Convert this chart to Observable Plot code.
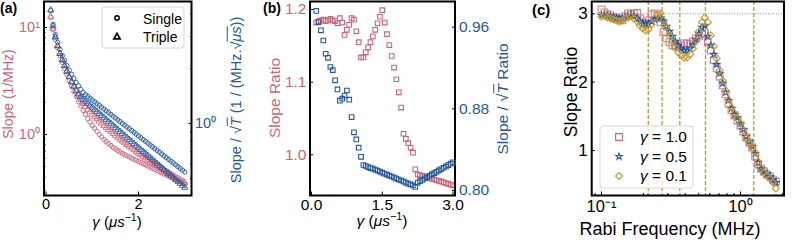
<!DOCTYPE html>
<html><head><meta charset="utf-8">
<script src="https://cdn.jsdelivr.net/npm/d3@7"></script>
<script src="https://cdn.jsdelivr.net/npm/@observablehq/plot@0.6"></script>
<style>
html,body{margin:0;padding:0;background:#fff;}
#wrap{position:relative;width:793px;height:241px;overflow:hidden;font-family:"Liberation Sans",Arial,sans-serif;}
#wrap svg{position:absolute;left:0;top:0;}
.t{position:absolute;white-space:nowrap;line-height:1;}
.ov{text-decoration:overline;}
</style></head><body><div id="wrap"></div>
<script>
// ---------- data ----------
const gamma = [0.1,0.15,0.2,0.25,0.3,0.35,0.4,0.45,0.5,0.55,0.6,0.65,0.7,0.75,0.8,0.85,0.9,0.95,1.0,1.05,1.1,1.15,1.2,1.25,1.3,1.35,1.4,1.45,1.5,1.55,1.6,1.65,1.7,1.75,1.8,1.85,1.9,1.95,2.0,2.05,2.1,2.15,2.2,2.25,2.3,2.35,2.4,2.45,2.5,2.55,2.6,2.65,2.7,2.75,2.8,2.85,2.9,2.95,3.0];
// panel (a): slope (left axis, 1/MHz)
const slopeSingle = [12.41,9.58,7.72,6.43,5.47,4.71,4.14,3.64,3.20,2.84,2.52,2.27,2.03,1.85,1.68,1.54,1.41,1.31,1.21,1.14,1.07,1.00,0.948,0.898,0.860,0.824,0.789,0.756,0.732,0.709,0.686,0.667,0.650,0.632,0.616,0.602,0.586,0.573,0.559,0.546,0.532,0.520,0.508,0.496,0.483,0.472,0.461,0.450,0.439,0.428,0.418,0.409,0.398,0.389,0.380,0.369,0.360,0.350,0.341];
const slopeTriple = [12.67,9.79,8.06,6.72,5.71,4.97,4.41,3.92,3.48,3.13,2.81,2.55,2.31,2.12,1.95,1.83,1.71,1.62,1.54,1.46,1.40,1.33,1.27,1.21,1.16,1.11,1.07,1.02,0.979,0.937,0.898,0.864,0.833,0.801,0.772,0.743,0.716,0.689,0.664,0.643,0.623,0.603,0.584,0.565,0.547,0.530,0.513,0.497,0.481,0.466,0.451,0.438,0.425,0.413,0.401,0.389,0.377,0.367,0.356];
// panel (a): slope / sqrt(T) (right axis)
const normSingle = [4.18,3.50,3.08,2.79,2.55,2.36,2.22,2.08,1.96,1.86,1.77,1.68,1.61,1.54,1.48,1.44,1.41,1.375,1.346,1.316,1.286,1.257,1.229,1.201,1.174,1.148,1.122,1.097,1.072,1.048,1.024,1.001,0.979,0.957,0.935,0.914,0.894,0.874,0.854,0.835,0.816,0.798,0.780,0.762,0.745,0.728,0.712,0.696,0.680,0.665,0.650,0.635,0.621,0.607,0.593,0.580,0.567,0.554,0.541];
const normTriple = [4.20,3.43,2.99,2.67,2.42,2.23,2.07,1.93,1.80,1.69,1.60,1.52,1.45,1.40,1.355,1.321,1.288,1.256,1.224,1.193,1.164,1.135,1.106,1.079,1.052,1.025,1.000,0.975,0.950,0.927,0.903,0.881,0.859,0.837,0.816,0.796,0.776,0.757,0.738,0.719,0.701,0.684,0.667,0.650,0.634,0.618,0.602,0.587,0.573,0.558,0.544,0.531,0.518,0.505,0.492,0.480,0.468,0.456,0.445];
// panel (b): ratios
const ratioSlope = [1.182,1.184,1.185,1.186,1.184,1.185,1.187,1.185,1.184,1.181,1.188,1.182,1.165,1.172,1.179,1.188,1.186,1.170,1.155,1.134,1.134,1.141,1.148,1.155,1.163,1.172,1.181,1.190,1.199,1.182,1.166,1.151,1.136,1.120,1.104,1.086,1.065,1.029,1.022,1.016,1.010,1.003,0.980,0.973,0.972,0.971,0.970,0.969,0.968,0.967,0.966,0.965,0.964,0.963,0.962,0.961,0.960,0.959,0.958];
const ratioNorm = [0.976,0.965,0.957,0.947,0.934,0.930,0.921,0.918,0.908,0.899,0.888,0.890,0.893,0.898,0.889,0.872,0.857,0.850,0.842,0.833,0.825,0.824,0.823,0.822,0.8215,0.8205,0.8195,0.8185,0.8176,0.8166,0.8156,0.8146,0.8137,0.8127,0.8117,0.8107,0.8098,0.8088,0.8078,0.8068,0.8059,0.8050,0.8035,0.8078,0.8091,0.8104,0.8118,0.8131,0.8144,0.8157,0.8170,0.8183,0.8197,0.8210,0.8223,0.8236,0.8249,0.8263,0.8276];
// panel (c): slope ratio vs Rabi frequency
const rabi = [0.100,0.105,0.110,0.116,0.122,0.128,0.134,0.141,0.148,0.155,0.163,0.171,0.180,0.189,0.198,0.208,0.218,0.229,0.241,0.253,0.266,0.279,0.293,0.308,0.323,0.340,0.357,0.374,0.393,0.413,0.434,0.455,0.478,0.502,0.528,0.554,0.582,0.611,0.642,0.674,0.708,0.744,0.781,0.820,0.861,0.905,0.950,0.998,1.048,1.100,1.156,1.214,1.275,1.339,1.406,1.476,1.550,1.628,1.710,1.796];
const ratioG10 = [3.064,3.020,2.991,2.977,2.947,2.933,2.918,2.903,2.962,3.006,2.991,3.006,3.013,2.933,2.874,2.845,2.903,2.991,3.006,2.977,2.874,2.728,2.640,2.581,2.537,2.523,2.508,2.537,2.567,2.567,2.552,2.596,2.640,2.669,2.698,2.713,2.581,2.464,2.318,2.201,2.083,1.952,1.820,1.688,1.586,1.512,1.439,1.366,1.278,1.190,1.117,1.044,0.912,0.795,0.736,0.693,0.649,0.619,0.575,0.546];
const ratioG05 = [2.977,2.984,2.969,2.962,2.947,2.940,2.933,2.933,2.947,2.962,2.977,2.962,2.933,2.889,2.859,2.852,2.859,2.889,2.918,2.933,2.940,2.889,2.816,2.742,2.669,2.596,2.537,2.493,2.464,2.464,2.493,2.552,2.625,2.713,2.801,2.830,2.669,2.537,2.406,2.259,2.127,1.981,1.849,1.732,1.615,1.527,1.483,1.395,1.307,1.205,1.132,1.059,0.956,0.824,0.736,0.693,0.656,0.619,0.575,0.531];
const ratioG01 = [2.962,2.977,2.947,2.933,2.918,2.903,2.889,2.903,2.933,2.947,2.962,2.933,2.889,2.830,2.786,2.757,2.772,2.845,2.933,2.991,3.006,2.903,2.801,2.684,2.596,2.508,2.435,2.391,2.362,2.362,2.406,2.493,2.611,2.742,2.874,2.947,2.874,2.684,2.523,2.347,2.171,2.025,1.878,1.747,1.630,1.542,1.469,1.395,1.293,1.190,1.117,1.044,0.971,0.839,0.736,0.678,0.634,0.590,0.531,0.444];
const resonances = [0.217,0.273,0.366,0.56,1.247];
const limitRatio = [3];
// ticks
const aXTicks = [0, 2];
const aLeftTicks = [1, 10], aLeftLabels = ["10\u2070", "10\u00B9"];
const aLeftMinor = [0.3,0.4,0.5,0.6,0.7,0.8,0.9,2,3,4,5,6,7,8,9];
const aRightTicks = [1], aRightLabels = ["10\u2070"];
const aRightMinor = [0.5,0.6,0.7,0.8,0.9,2,3,4];
const bXTicks = [0, 1.5, 3.0];
const bLeftTicks = [1.0, 1.1, 1.2];
const bRightTicks = [0.80, 0.88, 0.96];
const cXTicks = [0.1, 1], cXLabels = ["10\u207B\u00B9", "10\u2070"];
const cXMinor = [0.09,0.2,0.3,0.4,0.5,0.6,0.7,0.8,0.9,2];
const cYTicks = [1, 2, 3];

// ---------- helpers ----------
const FONT = "'Liberation Sans', Arial, Helvetica, sans-serif";
const RED = "#CC6677", BLUE = "#2459A2", GOLD = "#C09A30";
const W = 793, H = 241;
const wrap = document.getElementById("wrap");
const rows = (xs, ys) => xs.map((x, i) => ({x, y: ys[i]}));
const frameOf = (f) => ({width: W, height: H, marginLeft: f.l, marginRight: W - f.r, marginTop: f.t, marginBottom: H - f.b,
  style: {background: "transparent", overflow: "visible", fontFamily: FONT, fontSize: "14px", color: "black"}});
const add = (svg) => wrap.appendChild(svg);
const diamond = {draw(ctx, size) { const r = Math.sqrt(size / 2); ctx.moveTo(0, -r); ctx.lineTo(r, 0); ctx.lineTo(0, r); ctx.lineTo(-r, 0); ctx.closePath(); }};

// ---------- panel (a) ----------
const FA = {l: 43.5, r: 191, t: 1, b: 195};
const xA = {domain: [-0.045, 3.145]};
add(Plot.plot({
  ...frameOf(FA),
  x: xA,
  y: {type: "log", domain: [0.269, 17.5]},
  marks: [
    Plot.dot(rows(gamma, slopeSingle), {x: "x", y: "y", symbol: "circle", r: 2.2, stroke: RED, strokeWidth: 0.9, fill: "none"}),
    Plot.dot(rows(gamma, slopeTriple), {x: "x", y: "y", symbol: "triangle", r: 2.3, stroke: RED, strokeWidth: 0.9, fill: "none"}),
    Plot.axisX(aXTicks, {tickSize: -3.5, tickPadding: 7, tickFormat: d => String(d), fontSize: 14.5, label: null}),
    Plot.axisY(aLeftTicks, {anchor: "left", tickSize: -3.5, tickPadding: 7.5, tickFormat: d => aLeftLabels[aLeftTicks.indexOf(d)], fill: RED, stroke: "black", fontSize: 14.5, label: null}),
    Plot.axisY(aLeftMinor, {anchor: "left", tickSize: -2, tickFormat: () => "", label: null}),
    Plot.frame({stroke: "black", strokeWidth: 2})
  ]
}));
add(Plot.plot({
  ...frameOf(FA),
  x: {...xA, axis: null},
  y: {type: "log", domain: [0.402, 4.68]},
  marks: [
    Plot.dot(rows(gamma, normSingle), {x: "x", y: "y", symbol: "circle", r: 2.2, stroke: BLUE, strokeWidth: 0.9, fill: "none"}),
    Plot.dot(rows(gamma, normTriple), {x: "x", y: "y", symbol: "triangle", r: 2.3, stroke: BLUE, strokeWidth: 0.9, fill: "none"}),
    Plot.axisY(aRightTicks, {anchor: "right", tickSize: -3.5, tickPadding: 7, tickFormat: d => aRightLabels[aRightTicks.indexOf(d)], fill: BLUE, stroke: "black", fontSize: 14.5, label: null}),
    Plot.axisY(aRightMinor, {anchor: "right", tickSize: -2, tickFormat: () => "", label: null})
  ]
}));

// ---------- panel (b) ----------
const FB = {l: 309.5, r: 454.5, t: 1, b: 195};
const xB = {domain: [-0.032, 3.042]};
add(Plot.plot({
  ...frameOf(FB),
  x: xB,
  y: {domain: [0.944, 1.211]},
  marks: [
    Plot.dot(rows(gamma, ratioSlope), {x: "x", y: "y", symbol: "square", r: 2.6, stroke: RED, strokeWidth: 1.1, fill: "none"}),
    Plot.axisX(bXTicks, {tickSize: -3.5, tickPadding: 7, tickFormat: d3.format(".1f"), fontSize: 15.5, label: null}),
    Plot.axisY(bLeftTicks, {anchor: "left", tickSize: -3.5, tickPadding: 7, tickFormat: d3.format(".1f"), fill: RED, stroke: "black", fontSize: 15.5, label: null}),
    Plot.frame({stroke: "black", strokeWidth: 2})
  ]
}));
add(Plot.plot({
  ...frameOf(FB),
  x: {...xB, axis: null},
  y: {domain: [0.7951, 0.9852]},
  marks: [
    Plot.dot(rows(gamma, ratioNorm), {x: "x", y: "y", symbol: "square", r: 2.6, stroke: BLUE, strokeWidth: 1.1, fill: "none"}),
    Plot.axisY(bRightTicks, {anchor: "right", tickSize: -3.5, tickPadding: 7.5, tickFormat: d3.format(".2f"), fill: BLUE, stroke: "black", fontSize: 15.5, label: null})
  ]
}));

// ---------- panel (c) ----------
const FC = {l: 591.2, r: 783.5, t: 1, b: 195};
add(Plot.plot({
  ...frameOf(FC),
  x: {type: "log", domain: [0.085, 2.056]},
  y: {domain: [0.3416, 3.18]},
  marks: [
    Plot.ruleY(limitRatio, {stroke: "#888", strokeWidth: 1, strokeDasharray: "1,1.6"}),
    Plot.ruleX(resonances, {stroke: GOLD, strokeWidth: 1.3, strokeDasharray: "4,2"}),
    Plot.dot(rows(rabi, ratioG10), {x: "x", y: "y", symbol: "square", r: 3.8, stroke: RED, strokeOpacity: 0.85, strokeWidth: 1.1, fill: "none"}),
    Plot.dot(rows(rabi, ratioG05), {x: "x", y: "y", symbol: "star", r: 2.0, stroke: BLUE, strokeWidth: 1.1, fill: "none"}),
    Plot.dot(rows(rabi, ratioG01), {x: "x", y: "y", symbol: diamond, r: 2.8, stroke: GOLD, strokeWidth: 1.1, fill: "none"}),
    Plot.axisX(cXTicks, {tickSize: -3.5, tickPadding: 8, tickFormat: d => cXLabels[cXTicks.indexOf(d)], fontSize: 16.5, label: null}),
    Plot.axisX(cXMinor, {tickSize: -2, tickFormat: () => "", label: null}),
    Plot.axisY(cYTicks, {anchor: "left", tickSize: -3.5, tickPadding: 7.5, tickFormat: d => String(d), fontSize: 17, label: null}),
    Plot.frame({stroke: "black", strokeWidth: 2})
  ]
}));

// ---------- legends (symbols) ----------
const ns = "http://www.w3.org/2000/svg";
const leg = document.createElementNS(ns, "svg");
leg.setAttribute("width", W); leg.setAttribute("height", H);
leg.style.pointerEvents = "none";
function box(x, y, w, h) {
  const r = document.createElementNS(ns, "rect");
  r.setAttribute("x", x); r.setAttribute("y", y); r.setAttribute("width", w); r.setAttribute("height", h);
  r.setAttribute("rx", 3); r.setAttribute("fill", "rgba(255,255,255,0.85)"); r.setAttribute("stroke", "#d6d6d6"); r.setAttribute("stroke-width", 1);
  leg.appendChild(r);
}
function sym(type, r, x, y, color, sw = 1) {
  const p = document.createElementNS(ns, "path");
  p.setAttribute("d", d3.symbol(type, Math.PI * r * r)());
  p.setAttribute("transform", `translate(${x},${y})`);
  p.setAttribute("fill", "none"); p.setAttribute("stroke", color); p.setAttribute("stroke-width", sw);
  leg.appendChild(p);
}
box(102, 7, 82, 41);
sym(d3.symbolCircle, 2.2, 117, 18, "black", 1.5);
sym(d3.symbolTriangle, 2.3, 117, 37, "black", 1.7);
box(600, 126, 93, 62);
sym(d3.symbolSquare, 3.8, 619, 137, RED, 1.1);
sym(d3.symbolStar, 2.0, 619, 156.5, BLUE, 1.1);
sym(diamond, 2.8, 619, 176, GOLD, 1.1);
wrap.appendChild(leg);

// ---------- text ----------
function label(html, x, y, {size = 14, color = "black", rot = false, bold = false, anchor = "c"} = {}) {
  const d = document.createElement("div");
  d.className = "t";
  d.innerHTML = html;
  d.style.left = x + "px"; d.style.top = y + "px";
  d.style.fontSize = size + "px"; d.style.color = color;
  if (bold) d.style.fontWeight = "bold";
  d.style.transform = anchor === "c" ? (rot ? "translate(-50%,-50%) rotate(-90deg)" : "translate(-50%,-50%)")
    : anchor === "l" ? "translate(0,-50%)" : "none";
  wrap.appendChild(d);
}
const gammaUnit = '<i>γ</i> (<i>μs</i><sup style="font-size:0.7em">−1</sup>)';
label("(a)", 0, 1, {size: 14, bold: true, anchor: "tl"});
label("(b)", 263, 1, {size: 14, bold: true, anchor: "tl"});
label("(c)", 532, 2, {size: 15, bold: true, anchor: "tl"});
label("Slope (1/MHz)", 7.5, 94, {size: 14, color: RED, rot: true});
label('Slope / √<span class="ov"><i>T</i></span> (1 / (MHz.√<span class="ov"><i>μs</i></span>))', 236, 100, {size: 14.5, color: BLUE, rot: true});
label(gammaUnit, 117, 220, {size: 15});
label("Single", 143, 18.5, {size: 14, anchor: "l"});
label("Triple", 143, 37, {size: 14, anchor: "l"});
label("Slope Ratio", 275, 98, {size: 15.5, color: RED, rot: true});
label('Slope / √<span class="ov"><i>T</i></span> Ratio', 503, 99, {size: 15.5, color: BLUE, rot: true});
label(gammaUnit, 382, 220, {size: 15.5});
label("Slope Ratio", 571.5, 92, {size: 17.5, rot: true});
label("Rabi Frequency (MHz)", 670, 229, {size: 18});
label("<i>γ</i> = 1.0", 640, 137, {size: 15.5, anchor: "l"});
label("<i>γ</i> = 0.5", 640, 156.5, {size: 15.5, anchor: "l"});
label("<i>γ</i> = 0.1", 640, 176, {size: 15.5, anchor: "l"});
</script></body></html>
